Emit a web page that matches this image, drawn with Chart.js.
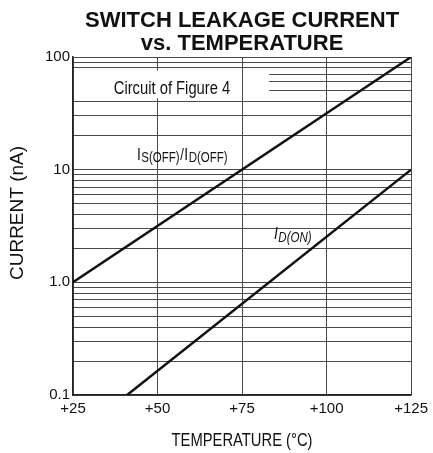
<!DOCTYPE html>
<html><head><meta charset="utf-8">
<style>html,body{margin:0;padding:0;background:#fff}</style>
<script src="https://cdn.jsdelivr.net/npm/chart.js@4.4.1/dist/chart.umd.min.js"></script>
</head><body>
<canvas id="c" width="433" height="453"></canvas>
<script>
// ---- data ----
const xTickValues = [25, 50, 75, 100, 125];
const xTickLabels = ['+25', '+50', '+75', '+100', '+125'];
const yGridValues = [0.1, 0.2, 0.3, 0.4, 0.5, 0.6, 0.7, 0.8, 0.9,
                     1, 2, 3, 4, 5, 6, 7, 8, 9,
                     10, 20, 30, 40, 50, 60, 70, 80, 90, 100];
const yTickLabels = {'0.1': '0.1', '1': '1.0', '10': '10', '100': '100'};
const offLeakTemp = [25, 125];
const offLeakCurrent = [1, 100];
const onLeakTemp = [41, 125];
const onLeakCurrent = [0.1, 10];

const SANS = "'Liberation Sans', Arial, sans-serif";
const GRID = '#4a4a4a';
const INK = '#111';
const NARROW_X = 0.82;

function pts(xs, ys) { return xs.map((x, i) => ({x: x, y: ys[i]})); }

const annot = {
  id: 'annot',
  beforeDatasetsDraw(chart) {
    const {ctx, scales: {x, y}} = chart;
    const x0 = x.getPixelForValue(25) + 1, x1 = x.getPixelForValue(83);
    const y0 = y.getPixelForValue(76), y1 = y.getPixelForValue(43);
    ctx.save();
    ctx.fillStyle = '#fff';
    ctx.fillRect(x0, y0, x1 - x0, y1 - y0);
    const xv = Math.round(x.getPixelForValue(75)) + 0.5;
    ctx.strokeStyle = GRID; ctx.lineWidth = 1;
    ctx.beginPath(); ctx.moveTo(xv, y0 - 1); ctx.lineTo(xv, y1 + 1); ctx.stroke();
    ctx.restore();
  },
  afterDraw(chart) {
    const {ctx, chartArea: ca} = chart;
    ctx.save();
    ctx.fillStyle = INK;
    ctx.textAlign = 'center';
    ctx.textBaseline = 'alphabetic';
    const cx = (ca.left + ca.right) / 2;
    ctx.font = "bold 22px " + SANS;
    ctx.fillText('SWITCH LEAKAGE CURRENT', cx, 27);
    ctx.fillText('vs. TEMPERATURE', cx, 50);

    function narrowText(txt, px, py, font, align, baseline) {
      ctx.save();
      ctx.translate(px, py);
      ctx.scale(NARROW_X, 1);
      ctx.font = font;
      ctx.textAlign = align;
      ctx.textBaseline = baseline;
      ctx.fillText(txt, 0, 0);
      ctx.restore();
    }
    // axis titles
    narrowText('TEMPERATURE (°C)', cx, 441, "18px " + SANS, 'center', 'middle');
    ctx.save();
    ctx.translate(18, 213);
    ctx.rotate(-Math.PI / 2);
    ctx.font = "19px " + SANS;
    ctx.textBaseline = 'middle';
    ctx.fillText('CURRENT (nA)', 0, 0);
    ctx.restore();

    // annotations
    narrowText('Circuit of Figure 4', 172, 94, "18px " + SANS, 'center', 'alphabetic');

    function seq(parts, sx, by, italic) {
      let px = sx;
      parts.forEach(p => {
        const f = (italic ? 'italic ' : '') + p[1] + 'px ' + SANS;
        narrowText(p[0], px, by + p[2], f, 'left', 'alphabetic');
        ctx.font = f;
        px += ctx.measureText(p[0]).width * NARROW_X + (p[3] || 0);
      });
    }
    seq([['I', 17, 0, 0.5], ['S(OFF)', 14, 2, 0.5], ['/', 16, 0, 0.5], ['I', 17, 0, 0.5], ['D(OFF)', 14, 2]], 137, 160, false);
    seq([['I', 17, 0, 0.5], ['D(ON)', 14, 3]], 274, 239, true);
    ctx.restore();
  }
};

new Chart(document.getElementById('c'), {
  type: 'scatter',
  data: {
    datasets: [
      {label: 'IS(OFF)/ID(OFF)', data: pts(offLeakTemp, offLeakCurrent), showLine: true,
       borderColor: INK, borderWidth: 2.5, pointRadius: 0, fill: false},
      {label: 'ID(ON)', data: pts(onLeakTemp, onLeakCurrent), showLine: true,
       borderColor: INK, borderWidth: 2.5, pointRadius: 0, fill: false}
    ]
  },
  options: {
    responsive: false, animation: false, devicePixelRatio: 1,
    layout: {padding: {left: 33, right: 21, top: 57, bottom: 33}},
    plugins: {legend: {display: false}, tooltip: {enabled: false}, title: {display: false}},
    scales: {
      x: {
        type: 'linear', min: 25, max: 125,
        afterBuildTicks: s => { s.ticks = xTickValues.map(v => ({value: v})); },
        afterFit: s => { s.height = 25; },
        ticks: {callback: (v, i) => xTickLabels[i], autoSkip: false, maxRotation: 0,
                font: {family: SANS, size: 15}, color: INK, padding: 5},
        grid: {color: GRID, lineWidth: 1, drawTicks: false},
        border: {color: '#222', width: 1.5}
      },
      y: {
        type: 'logarithmic', min: 0.1, max: 100,
        afterBuildTicks: s => { s.ticks = yGridValues.map(v => ({value: v})); },
        afterFit: s => { s.width = 40; },
        ticks: {callback: v => (yTickLabels[String(v)] !== undefined ? yTickLabels[String(v)] : ''),
                autoSkip: false, font: {family: SANS, size: 15}, color: INK, padding: 3},
        grid: {color: GRID, lineWidth: 1, drawTicks: false},
        border: {color: '#222', width: 1.5}
      }
    }
  },
  plugins: [annot]
});
</script>
</body></html>
